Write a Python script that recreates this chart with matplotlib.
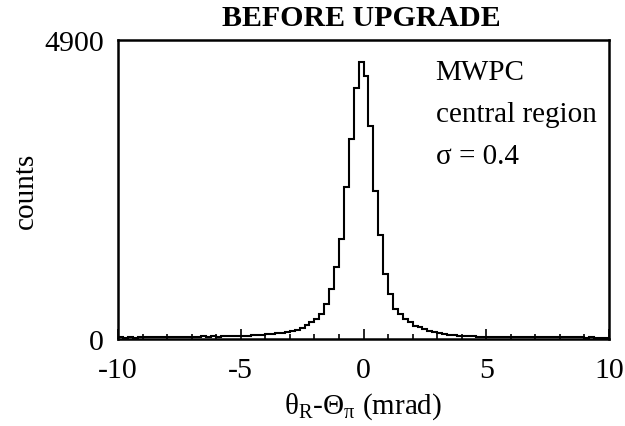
import numpy as np
import matplotlib
matplotlib.use("Agg")
import matplotlib.pyplot as plt
from matplotlib.ticker import MultipleLocator

plt.rcParams['font.family'] = ['Liberation Serif', 'DejaVu Serif']
plt.rcParams['mathtext.fontset'] = 'custom'
plt.rcParams['mathtext.rm'] = 'Liberation Serif'

# angular residual histogram, 0.2 mrad bins from -10 to 10
bin_lo, bin_hi, n_bins = -10.0, 10.0, 100
counts = [
    30, 24, 33, 22, 28, 35, 25, 31, 37, 27,
    33, 39, 29, 35, 40, 32, 38, 42, 36, 44,
    40, 47, 43, 50, 47, 54, 57, 61, 66, 71,
    77, 84, 91, 98, 110, 131, 152, 185, 229, 284,
    328, 410, 574, 820, 1175, 1639, 2496, 3278, 4114, 4545,
    4306, 3486, 2431, 1709, 1065, 738, 492, 402, 328, 274,
    218, 192, 164, 136, 120, 98, 82, 70, 62, 56,
    50, 46, 42, 40, 38, 37, 36, 35, 34, 33,
    32, 33, 31, 30, 31, 29, 30, 28, 29, 27,
    28, 26, 27, 25, 26, 24, 25, 23, 24, 22,
]
ymax = 4900
x_ticks = [-10, -5, 0, 5, 10]

fig = plt.figure(figsize=(6.25, 4.27), dpi=100)
ax = fig.add_axes([118 / 625, 1 - 340 / 427, 491 / 625, 299 / 427])

edges = np.linspace(bin_lo, bin_hi, n_bins + 1)
ax.stairs(counts, edges, color='black', linewidth=1.5, baseline=None)

ax.set_xlim(bin_lo, bin_hi)
ax.set_ylim(0, ymax)
ax.set_xticks(x_ticks)
ax.set_xticklabels([str(t) for t in x_ticks])
ax.xaxis.set_minor_locator(MultipleLocator(1))
ax.set_yticks([0, ymax])
ax.set_yticklabels(['0', str(ymax)])

ax.tick_params(axis='x', which='major', direction='in', length=7, width=1.2,
               labelsize=21.5, pad=13, top=False)
ax.tick_params(axis='x', which='minor', direction='in', length=3.5, width=1.2, top=False)
ax.tick_params(axis='y', length=0, labelsize=21.5, pad=10)
for s in ax.spines.values():
    s.set_linewidth(1.8)

ax.set_xlabel(r'θ$_\mathrm{R}$-Θ$_\mathrm{π}$ (mrad)', fontsize=21, labelpad=5)
ax.set_ylabel('counts', fontsize=21, labelpad=4)

fig.text(361 / 625, 1 - 18 / 427, 'BEFORE UPGRADE', ha='center', va='center',
         fontsize=21.5, fontweight='bold')

ax.text(0.647, 0.935, 'MWPC\ncentral region\nσ = 0.4', transform=ax.transAxes,
        ha='left', va='top', fontsize=21, linespacing=1.78)

fig.savefig('out.png', dpi=100)
